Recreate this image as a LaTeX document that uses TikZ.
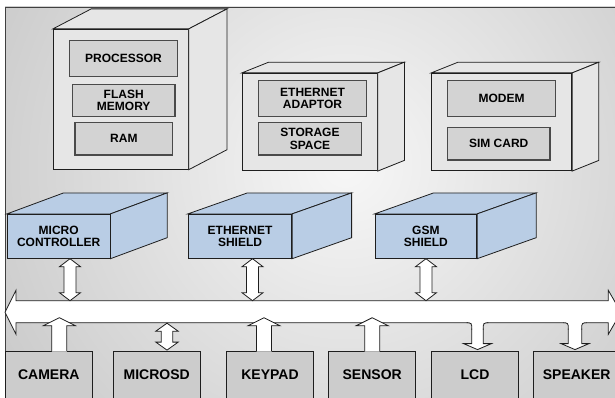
\documentclass[tikz,border=0pt]{standalone}
\usepackage{fontspec}
\setmainfont{Liberation Sans}
\usetikzlibrary{calc}

\definecolor{facegray}{HTML}{E6E6E6}
\definecolor{partgray}{HTML}{D3D3D3}
\definecolor{partedge}{HTML}{4A4A4A}
\definecolor{shieldblue}{HTML}{B9CDE5}
\definecolor{devgray}{HTML}{CCCCCC}
\definecolor{edge}{HTML}{1E1E1E}
\definecolor{bgdark}{HTML}{ADADAD}
\definecolor{bglight}{HTML}{F7F7F7}

\newcommand{\labelfont}{\bfseries\fontsize{12}{12.3}\selectfont}
\newcommand{\devfont}{\bfseries\fontsize{14}{16}\selectfont}

% top and right faces of a box drawn as a cube
\newcommand{\cubesides}[4]{%
 \draw[outline,fill=#4] (#1.north west) -- ++(#2,-#3) -- ($(#1.north east)+(#2,-#3)$) -- (#1.north east) -- cycle;
 \draw[outline,fill=#4] (#1.north east) -- ($(#1.north east)+(#2,-#3)$) -- ($(#1.south east)+(#2,-#3)$) -- (#1.south east) -- cycle;}

% double block arrow: top tip, bottom tip, shaft half, head half, head length
\newcommand{\twoway}[5]{%
 \draw[outline,fill=white] (#1) -- ($(#1)+(#4,#5)$) -- ($(#1)+(#3,#5)$) -- ($(#2)+(#3,-#5)$) -- ($(#2)+(#4,-#5)$) -- (#2)
   -- ($(#2)+(-#4,-#5)$) -- ($(#2)+(-#3,-#5)$) -- ($(#1)+(-#3,#5)$) -- ($(#1)+(-#4,#5)$) -- cycle;}

% block arrow from a device up into the bus: tip, base
\newcommand{\upinto}[2]{%
 \fill[white] ($(#2)+(-7.5,1)$) -- ($(#1)+(-7.5,8)$) -- ($(#1)+(-16,8)$) -- (#1) -- ($(#1)+(16,8)$) -- ($(#1)+(7.5,8)$) -- ($(#2)+(7.5,1)$) -- cycle;
 \draw[outline] ($(#2)+(-7.5,0.4)$) -- ($(#1)+(-7.5,8)$) -- ($(#1)+(-16,8)$) -- (#1) -- ($(#1)+(16,8)$) -- ($(#1)+(7.5,8)$) -- ($(#2)+(7.5,0.4)$);}

% block arrow from the bus down to a device: start on bus, tip, shaft half
\newcommand{\downfrom}[3]{%
 \fill[white] ($(#1)+(-#3-4,-1.5)$) rectangle ($(#1)+(#3+4,0.5)$);
 \fill[white] ($(#1)+(-#3,-1)$) rectangle ($(#2)+(#3,-6)$);
 \fill[white] ($(#2)+(-14,-6)$) -- (#2) -- ($(#2)+(14,-6)$) -- cycle;
 \draw[outline,rounded corners=3pt] ($(#1)+(-#3-5,0)$) -- ($(#1)+(-#3,0)$) -- ($(#1)+(-#3,7)$);
 \draw[outline,rounded corners=3pt] ($(#1)+(#3+5,0)$) -- ($(#1)+(#3,0)$) -- ($(#1)+(#3,7)$);
 \draw[outline] ($(#1)+(-#3,6)$) -- ($(#2)+(-#3,-6)$) -- ($(#2)+(-14,-6)$) -- (#2) -- ($(#2)+(14,-6)$) -- ($(#2)+(#3,-6)$) -- ($(#1)+(#3,6)$);}

\begin{document}
\begin{tikzpicture}[x=1pt,y=-1pt,
  outline/.style={draw=edge,line width=0.8pt},
  cubeface/.style={outline,fill=facegray,inner sep=0pt},
  shield/.style={outline,fill=shieldblue,inner sep=0pt,minimum height=44,align=center,font=\labelfont},
  part/.style={draw=partedge,line width=1.2pt,fill=partgray,inner sep=0pt,align=center,font=\labelfont},
  device/.style={outline,fill=devgray,minimum width=86.7,minimum height=48,inner sep=0pt,font=\devfont}]

\useasboundingbox (0,0) rectangle (615,398);
\clip (0,0) rectangle (615,398);

% background panel
\fill[bgdark] (5,7) rectangle (625,405);
\begin{scope}
\clip (5,7) rectangle (625,405);
\shade[inner color=bglight,outer color=bgdark] (345,165) circle (660);
\end{scope}
\draw[edge!85,line width=0.8pt] (5,405) -- (5,7) -- (625,7);

% storage and network units
\node[cubeface,minimum width=135,minimum height=140] (procbox) at (120.8,99.3) {};
\cubesides{procbox}{38.3}{20}{facegray}
\node[cubeface,minimum width=135,minimum height=97.4] (ethbox) at (309.8,122) {};
\cubesides{ethbox}{26.7}{10.7}{facegray}
\node[cubeface,minimum width=140,minimum height=97.4] (gsmbox) at (501.7,122) {};
\cubesides{gsmbox}{26.7}{10.7}{facegray}

\node[part,minimum width=108.4,minimum height=36] (proc) at (123.5,58.7) {PROCESSOR};
\node[part,minimum width=102.7,minimum height=32.4] (flash) at (123.7,100.5) {FLASH\\MEMORY};
\node[part,minimum width=97.7,minimum height=32.7] (ram) at (123.9,138.7) {RAM};
\node[part,minimum width=108.4,minimum height=36] (adapt) at (312.5,98.7) {ETHERNET\\ADAPTOR};
\node[part,minimum width=103.4,minimum height=32.3] (store) at (310,138.8) {STORAGE\\SPACE};
\node[part,minimum width=108.4,minimum height=36] (modem) at (501.5,98.7) {MODEM};
\node[part,minimum width=102.7,minimum height=32.3] (sim) at (498.7,143.8) {SIM CARD};

% boards
\node[shield,minimum width=102.7] (mcu) at (58.7,236.3) {MICRO\\CONTROLLER};
\cubesides{mcu}{56.7}{21}{shieldblue}
\node[shield,minimum width=103.4] (eshield) at (240,236.3) {ETHERNET\\SHIELD};
\cubesides{eshield}{59.5}{21}{shieldblue}
\node[shield,minimum width=101.7] (gshield) at (425.9,236.3) {GSM\\SHIELD};
\cubesides{gshield}{59}{21}{shieldblue}

% bus
\coordinate (busN) at (0,300.7);
\coordinate (busS) at (0,322.7);
\draw[outline,fill=white] (5,312.3) -- (16,290.3) -- (16,300.7) -- (608.3,300.7) -- (608.3,290.3)
  -- (621,312.3) -- (608.3,334.3) -- (608.3,322.7) -- (16,322.7) -- (16,334.3) -- cycle;

\twoway{$(mcu.south)+(11.3,0)$}{$(mcu.south |- busN)+(11.3,0)$}{6}{10.5}{8}
\twoway{$(eshield.south)+(12.5,0)$}{$(eshield.south |- busN)+(12.5,0)$}{6}{10.5}{8}
\twoway{$(gshield.south)+(0.1,0)$}{$(gshield.south |- busN)+(0.1,0)$}{6}{10.5}{8}

% devices
\node[device] (cam) at (48.8,375) {CAMERA};
\node[device] (sd) at (156.7,375) {MICROSD};
\node[device] (keys) at (270,375) {KEYPAD};
\node[device] (sens) at (372.2,375) {SENSOR};
\node[device] (lcd) at (475,375) {LCD};
\node[device] (spk) at (576.7,375) {SPEAKER};

\upinto{$(cam.north |- busS)+(10.5,-5)$}{$(cam.north)+(10.5,0)$}
\upinto{$(keys.north |- busS)+(-6,-5)$}{$(keys.north)+(-6,0)$}
\upinto{$(sens.north |- busS)+(0,-5)$}{$(sens.north)+(0,0)$}
\twoway{$(sd.north |- busS)+(10.3,0.5)$}{$(sd.north)+(10.3,-0.5)$}{5.8}{11.2}{8}
\downfrom{$(lcd.north |- busS)+(2.5,0)$}{$(lcd.north)+(2.5,-1)$}{5.8}
\downfrom{$(spk.north |- busS)+(-1.7,0)$}{$(spk.north)+(-1.7,-1)$}{6.7}

\end{tikzpicture}
\end{document}
